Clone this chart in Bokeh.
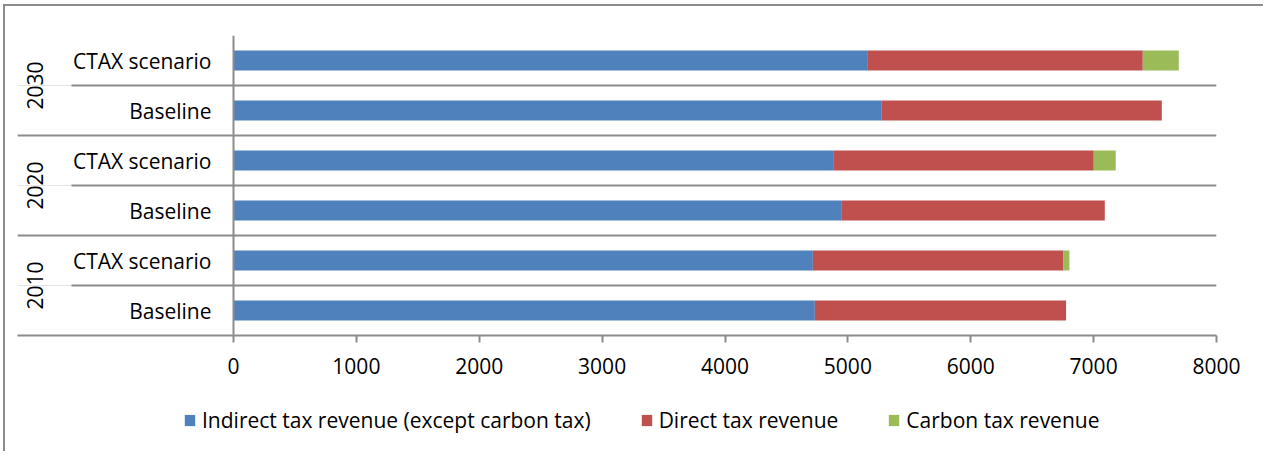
import math
from bokeh.plotting import figure
from bokeh.layouts import column
from bokeh.models import (Range1d, FixedTicker, Grid, Span, Legend, LegendItem,
                          ColumnDataSource)
from bokeh.core.properties import value
from bokeh.embed import file_html
from bokeh.resources import INLINE

# ---- data ----
years = ["2010", "2020", "2030"]
row_labels = ["Baseline", "CTAX scenario", "Baseline", "CTAX scenario", "Baseline", "CTAX scenario"]
indirect = [4731, 4715, 4951, 4886, 5276, 5157]
direct = [2045, 2040, 2140, 2115, 2279, 2243]
carbon = [0, 48, 0, 179, 0, 293]
series = ["Indirect tax revenue (except carbon tax)", "Direct tax revenue", "Carbon tax revenue"]
colors = ["#4F81BD", "#C0504D", "#9BBB59"]
x_ticks = [0, 1000, 2000, 3000, 4000, 5000, 6000, 7000, 8000]

# ---- layout / style ----
FONT = "Open Sans"
FS = "21px"
W, H, LH = 1260, 387, 60
label_px = 216          # width of label area left of the value axis (px)
plot_px = 983           # width of the bar area (px)
x_max = x_ticks[-1]
x_min = -x_max * label_px / plot_px
sub_px = 162            # width of the scenario-label column (px)
grid_col = "#8c8c8c"
border_css = "2px solid #8c8c8c"

rows = [i + 0.5 for i in range(len(row_labels))]
year_pos = [2 * i + 1 for i in range(len(years))]
sub_lines = [2 * i + 1 for i in range(len(years))]

src = ColumnDataSource(dict(y=rows, indirect=indirect, direct=direct, carbon=carbon,
                            label=row_labels, base=[0] * len(rows)))

p = figure(width=W, height=H, output_backend="svg", toolbar_location=None,
           x_range=Range1d(x_min, x_max), y_range=Range1d(0, len(rows)),
           y_axis_location=None, min_border_left=12, min_border_right=49,
           min_border_top=29, min_border_bottom=58)
p.outline_line_color = None
p.xgrid.visible = False
p.styles = {"margin-left": "3px", "margin-top": "4px",
            "border-left": border_css, "border-top": border_css}

# group separators (full width) and scenario separators (from label column)
g1 = Grid(dimension=1, ticker=FixedTicker(ticks=[0, 2, 4, 6]),
          grid_line_color=grid_col, grid_line_width=2)
p.add_layout(g1)
x_sub = x_min * sub_px / label_px
p.segment(x0=[x_sub] * len(sub_lines), y0=sub_lines, x1=[x_max] * len(sub_lines),
          y1=sub_lines, line_color=grid_col, line_width=2)
p.add_layout(Span(location=0, dimension="height", line_color=grid_col, line_width=2))

rs = p.hbar_stack(["indirect", "direct", "carbon"], y="y", height=0.4, color=colors,
                  line_color=None, source=src)

p.text(x="base", y="y", text="label", source=src, x_offset=-22,
       text_align="right", text_baseline="middle",
       text_font=value(FONT), text_font_size=FS, text_color="#000000")
p.text(x=[0] * len(years), y=year_pos, text=years, x_offset=-199, angle=math.pi / 2,
       text_align="center", text_baseline="middle",
       text_font=value(FONT), text_font_size=FS, text_color="#000000")

ax = p.xaxis[0]
ax.ticker = FixedTicker(ticks=x_ticks)
ax.axis_line_color = grid_col
ax.axis_line_width = 2
ax.major_tick_line_color = grid_col
ax.major_tick_line_width = 2
ax.major_tick_in = 0
ax.major_tick_out = 7
ax.minor_tick_line_color = None
ax.major_label_standoff = 15
ax.major_label_text_font = FONT
ax.major_label_text_font_size = FS
ax.major_label_text_color = "#000000"

# ---- legend strip (zero-width key bars only serve as legend swatches) ----
lg = figure(width=W, height=LH, output_backend="svg", toolbar_location=None,
            x_range=Range1d(0, 1), y_range=Range1d(0, 1),
            x_axis_location=None, y_axis_location=None,
            min_border_left=0, min_border_right=0, min_border_top=0, min_border_bottom=0)
lg.outline_line_color = None
lg.xgrid.visible = False
lg.ygrid.visible = False
lg.styles = {"margin-left": "3px", "border-left": border_css}
keys = [lg.hbar(y=[0], left=[0], right=[0], height=0, color=c, line_color=None)
        for c in colors]
legend = Legend(items=[LegendItem(label=s, renderers=[r]) for s, r in zip(series, keys)],
                orientation="horizontal", location=(166, 17),
                label_text_font=FONT, label_text_font_size=FS,
                label_text_color="#000000", glyph_width=13, glyph_height=14,
                label_standoff=6, spacing=49, border_line_color=None,
                background_fill_alpha=0, margin=0, padding=2)
lg.add_layout(legend)

layout = column(p, lg, spacing=0)
open("out.html", "w").write(file_html(layout, INLINE))
